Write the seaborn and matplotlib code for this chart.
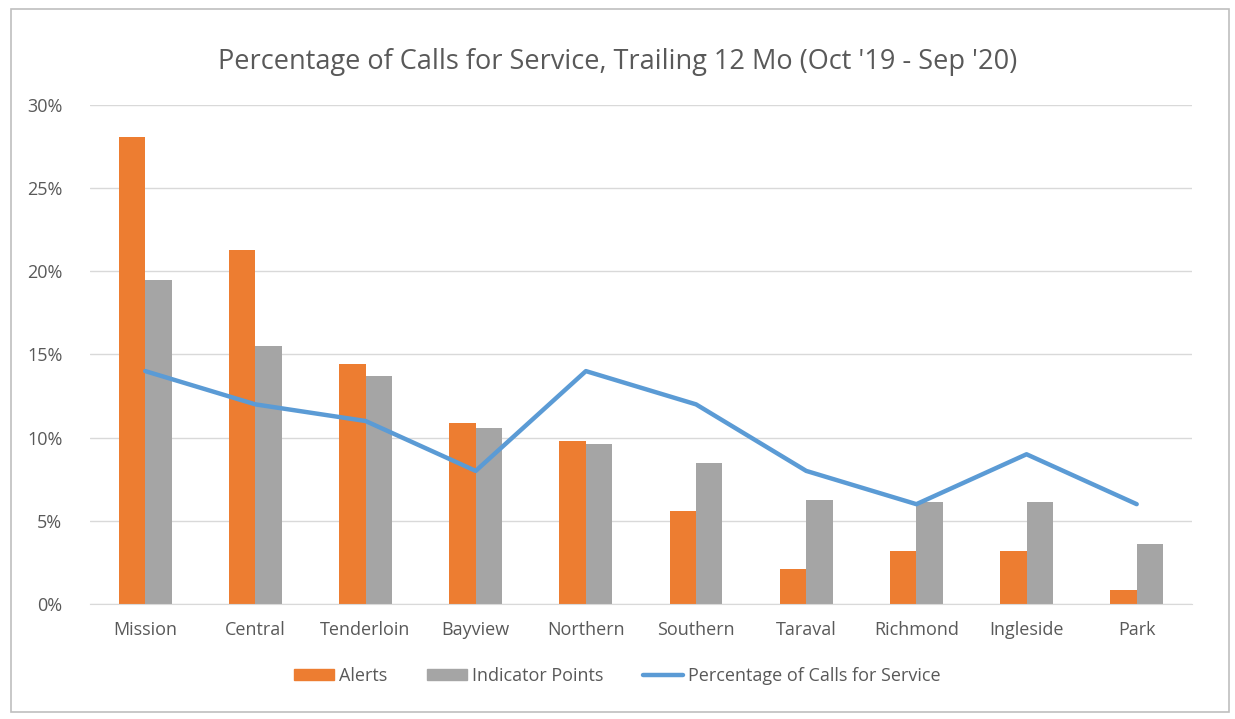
import numpy as np
import pandas as pd
import matplotlib.pyplot as plt
import seaborn as sns
from matplotlib.patches import Rectangle

# Data
districts = ['Mission', 'Central', 'Tenderloin', 'Bayview', 'Northern',
             'Southern', 'Taraval', 'Richmond', 'Ingleside', 'Park']
alerts = [28.1, 21.3, 14.4, 10.9, 9.8, 5.6, 2.1, 3.2, 3.2, 0.85]
indicator_points = [19.5, 15.5, 13.7, 10.6, 9.6, 8.5, 6.25, 6.1, 6.1, 3.6]
calls_pct = [14, 12, 11, 8, 14, 12, 8, 6, 9, 6]

bar_df = pd.DataFrame({
    'district': districts * 2,
    'value': alerts + indicator_points,
    'series': ['Alerts'] * len(districts) + ['Indicator Points'] * len(districts),
})

sns.set_style('white')
plt.rcParams['font.family'] = ['Open Sans', 'DejaVu Sans']
text_col = '#595959'

fig = plt.figure(figsize=(12.35, 7.19), dpi=100)
ax = fig.add_axes([0.073, 0.16, 0.892, 0.694])

sns.barplot(data=bar_df, x='district', y='value', hue='series',
            palette=['#ED7D31', '#A5A5A5'], width=0.48, gap=0,
            saturation=1, linewidth=0, ax=ax, legend=False)
sns.lineplot(x=np.arange(len(districts)), y=calls_pct, color='#5B9BD5',
             linewidth=3.2, ax=ax)

ax.set_ylim(0, 30)
ax.set_xlim(-0.5, len(districts) - 0.5)
ax.set_yticks(np.arange(0, 31, 5))
ax.set_yticklabels([f'{v}%' for v in range(0, 31, 5)])
ax.yaxis.grid(True, color='#D9D9D9', linewidth=1)
ax.set_axisbelow(True)
for s in ['top', 'right', 'left']:
    ax.spines[s].set_visible(False)
ax.spines['bottom'].set_color('#D9D9D9')
ax.tick_params(axis='both', length=0, labelsize=13, colors=text_col)
ax.tick_params(axis='x', pad=12)
ax.tick_params(axis='y', pad=20)
ax.set_xlabel('')
ax.set_ylabel('')

fig.text(0.5, 0.914, "Percentage of Calls for Service, Trailing 12 Mo (Oct '19 - Sep '20)",
         ha='center', va='center', fontsize=19.5, color=text_col)

handles = [
    plt.Rectangle((0, 0), 1, 1, color='#ED7D31'),
    plt.Rectangle((0, 0), 1, 1, color='#A5A5A5'),
    plt.Line2D([0], [0], color='#5B9BD5', linewidth=3.2),
]
fig.legend(handles, ['Alerts', 'Indicator Points', 'Percentage of Calls for Service'],
           loc='center', bbox_to_anchor=(0.5, 0.06), ncol=3, frameon=False,
           fontsize=13, labelcolor=text_col, handlelength=2.2, handleheight=0.6,
           handletextpad=0.3, columnspacing=2.2)

# outer chart border
fig.patches.append(Rectangle((0.009, 0.01), 0.986, 0.978, transform=fig.transFigure,
                             fill=False, edgecolor='#BFBFBF', linewidth=1.2))

fig.savefig('out.png', dpi=100)
